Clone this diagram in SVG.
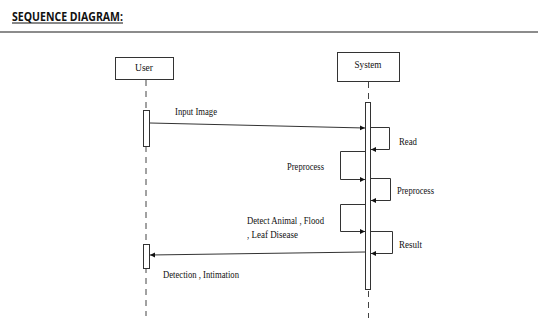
<svg xmlns="http://www.w3.org/2000/svg" width="538" height="320" viewBox="0 0 538 320">
<defs>
<style>
.t{font-family:"Liberation Serif","Times New Roman",serif;font-size:11px;fill:#111}
.box{fill:#fff;stroke:#333;stroke-width:1}
.ln{fill:none;stroke:#333;stroke-width:1}
.life{fill:none;stroke:#444;stroke-width:1;stroke-dasharray:6,5}
</style>
<marker id="ah" markerWidth="6" markerHeight="6" refX="5" refY="3" orient="auto" markerUnits="userSpaceOnUse">
<path d="M0,0.5 L5,3 L0,5.5 Z" fill="#111"/>
</marker>
</defs>
<rect width="538" height="320" fill="#fff"/>
<g id="title">
<text x="12" y="20.5" font-family="'Open Sans','Liberation Sans',sans-serif" font-weight="bold" font-size="12" fill="#111" textLength="111" lengthAdjust="spacingAndGlyphs">SEQUENCE DIAGRAM:</text>
<line x1="12" y1="23" x2="123" y2="23" stroke="#111" stroke-width="1"/>
<line x1="0" y1="32" x2="538" y2="32" stroke="#666" stroke-width="1.5"/>
</g>
<g id="user">
<rect class="box" x="115.5" y="57.5" width="58" height="22"/>
<text class="t" x="144" y="70.5" text-anchor="middle" textLength="18" lengthAdjust="spacingAndGlyphs">User</text>
<line class="life" x1="146" y1="80" x2="146" y2="316"/>
<rect class="box" x="143.5" y="110.5" width="6" height="36"/>
<rect class="box" x="143.5" y="244.5" width="6" height="24"/>
</g>
<g id="system">
<rect class="box" x="337.5" y="52.5" width="62" height="29"/>
<text class="t" x="368" y="67.5" text-anchor="middle" textLength="27" lengthAdjust="spacingAndGlyphs">System</text>
<line class="life" x1="368.5" y1="82" x2="368.5" y2="318"/>
<rect class="box" x="365.5" y="102.5" width="5" height="187"/>
</g>
<g id="connectors">
<line class="ln" x1="150" y1="123" x2="365" y2="128" marker-end="url(#ah)"/>
<polyline class="ln" points="371,127.5 389.5,127.5 389.5,149.5 371,149.5" marker-end="url(#ah)"/>
<polyline class="ln" points="365,151.5 340.5,151.5 340.5,179.5 365,179.5" marker-end="url(#ah)"/>
<polyline class="ln" points="371,178.5 390.5,178.5 390.5,200.5 371,200.5" marker-end="url(#ah)"/>
<polyline class="ln" points="365,204.5 340.5,204.5 340.5,231.5 365,231.5" marker-end="url(#ah)"/>
<polyline class="ln" points="371,231.5 392.5,231.5 392.5,253.5 371,253.5" marker-end="url(#ah)"/>
<line class="ln" x1="365" y1="252" x2="150" y2="255" marker-end="url(#ah)"/>
</g>
<g id="labels">
<text class="t" x="175" y="114.5" textLength="42" lengthAdjust="spacingAndGlyphs">Input Image</text>
<text class="t" x="399" y="144.5" textLength="18" lengthAdjust="spacingAndGlyphs">Read</text>
<text class="t" x="287" y="169.5" textLength="37" lengthAdjust="spacingAndGlyphs">Preprocess</text>
<text class="t" x="397" y="193.5" textLength="37" lengthAdjust="spacingAndGlyphs">Preprocess</text>
<text class="t" x="247" y="223.5" textLength="77" lengthAdjust="spacingAndGlyphs">Detect Animal , Flood</text>
<text class="t" x="247" y="237.5" textLength="51" lengthAdjust="spacingAndGlyphs">, Leaf Disease</text>
<text class="t" x="399" y="247.5" textLength="23" lengthAdjust="spacingAndGlyphs">Result</text>
<text class="t" x="163" y="277.5" textLength="76" lengthAdjust="spacingAndGlyphs">Detection , Intimation</text>
</g>
</svg>
